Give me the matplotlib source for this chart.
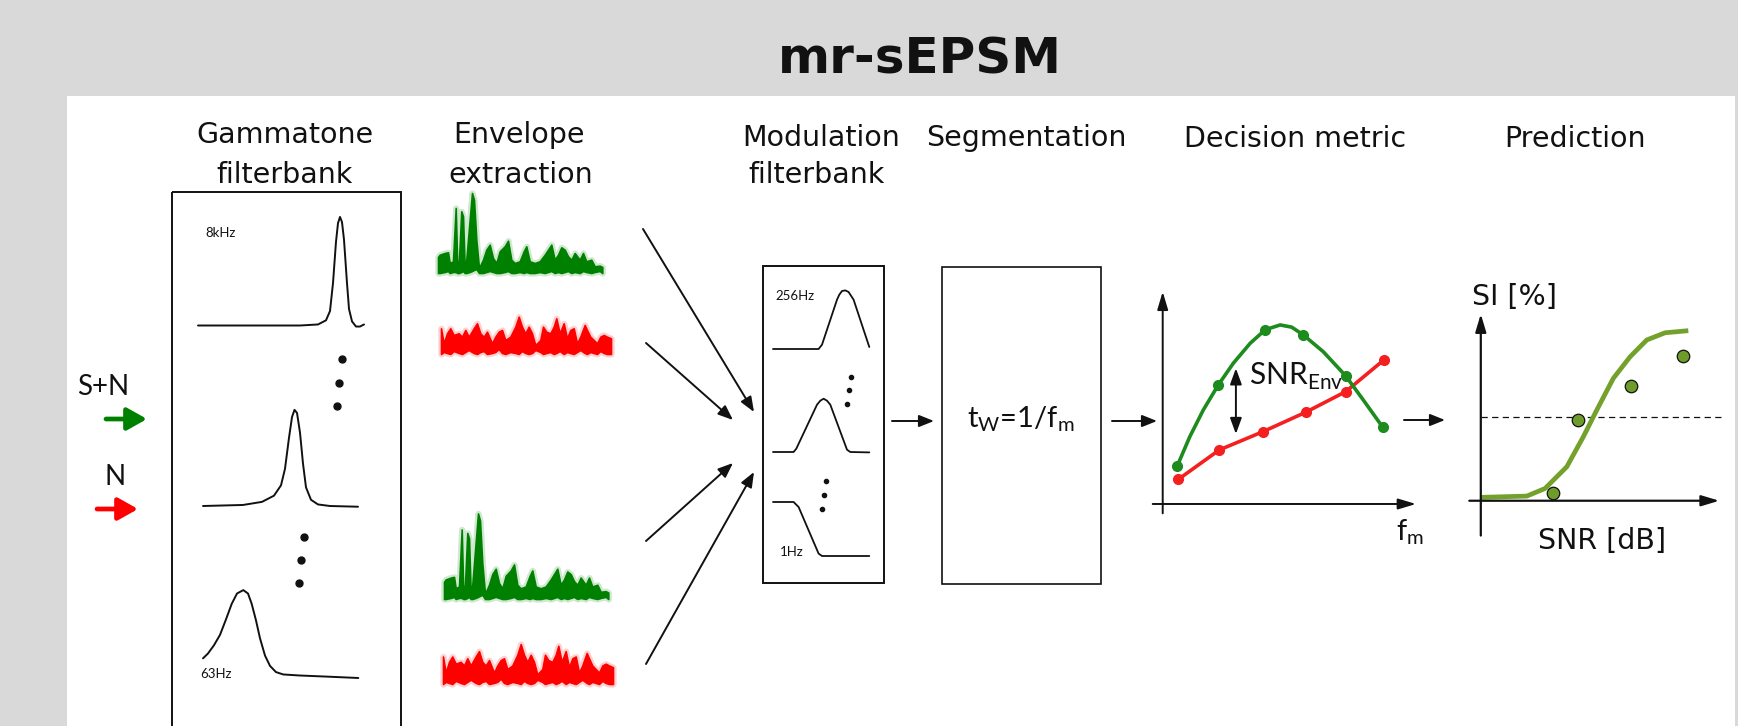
import numpy as np
import matplotlib
matplotlib.use("Agg")
import matplotlib.pyplot as plt
from matplotlib.patches import Rectangle

W, H = 1738, 726

# Gammatone filter magnitude shapes: (offset px, height px) from each filter's baseline start
GT_HIGH_DX = [0, 102, 120, 128, 132, 135, 138, 140, 142, 144, 146, 149, 151, 154, 158, 162, 166]
GT_HIGH_H = [0, 0, 1, 5, 14, 41, 81, 99, 105, 100, 83, 41, 16, 4, -1, -1, 1]
GT_MID_DX = [0, 40, 59, 71, 78, 82, 86, 89, 91.5, 94, 97, 100, 103, 108, 115, 127, 155]
GT_MID_H = [0, 1, 4, 10, 20, 36, 66, 86, 93, 90, 71, 41, 18, 6, 1.5, 0, -0.7]
GT_LOW_DX = [0, 5, 11, 17, 23, 28.7, 34, 40.3, 45, 48.7, 53, 57, 62, 67, 73, 80.3, 97, 127, 155.3]
GT_LOW_H = [19.3, 24, 32, 42, 57, 72, 82, 85.3, 82, 72, 56, 38.7, 22, 12, 6, 3.7, 2.7, 1.5, 0.3]

# Modulation filter shapes
MF_HIGH_DX = [0, 45.6, 49, 64, 66.3, 69, 72.3, 75.6, 80.6, 96.3]
MF_HIGH_H = [0, 0, 4.3, 49.3, 54.3, 58, 58.6, 57, 49.3, 2]
MF_MID_DX = [0, 20.6, 23.3, 44, 47.3, 50.6, 54, 57.3, 74, 77.3, 96.3]
MF_MID_H = [0, 0, 3.3, 47.3, 51.3, 53.3, 51.3, 47.3, 2.3, 0, -0.4]
MF_LOW_DX = [0, 20.6, 25.6, 45.6, 49, 96.3]
MF_LOW_H = [54, 54, 49, 2.4, 0, 0]

# Envelope traces (speech+noise in green, noise alone in red)
ENV_SN_DX = [0, 1.7, 6.7, 10, 11.7, 15, 17.7, 19.3, 21, 23.3, 25, 26.7, 28.3, 31.7, 34, 36,
             38.3, 41, 45, 48.3, 51.7, 55, 58.3, 61.7, 66.7, 70, 73.3, 76.7, 81.7, 85.7, 88.3,
             91.7, 96.7, 101.7, 106.7, 110, 113.3, 116.7, 120, 123.3, 126.7, 130, 133.3, 136.7,
             141.7, 145, 148.3, 153.3, 156.7, 161.7, 164.3]
ENV_SN_TOP = [16, 18.3, 20, 20.7, 10, 11.7, 65, 5, 13.3, 61.7, 56.7, 5, 13.3, 53.3, 80, 73.3,
              33.3, 5, 13.3, 23.3, 28.3, 15, 10, 21.7, 26.7, 32.3, 13.3, 10, 11.7, 21.7, 26.7,
              11.7, 10, 11.7, 18.3, 23.3, 28.3, 13.3, 18.3, 25.7, 23.3, 16.7, 13.3, 20, 13.3,
              20, 11.7, 13.3, 6.7, 7.3, 6]
ENV_SN_BOT = [0, 0, 1, 2, 0, 1, 1, 0, 0, 1, 2, 0, 0, 1, 2, 3, 4, 0, 0, 1, 2, 1, 0, 0, 1, 2,
              0, 0, 1, 0, 1, 0, 0, 1, 0, 1, 2, 0, 1, 0, 1, 2, 0, 1, 0, 2, 1, 0, 1, 2, 0]
ENV_N_DX = [0, 2.7, 6, 9.3, 12.7, 17.7, 21, 24.3, 27.7, 32.7, 36, 39.3, 42.7, 46, 51, 54.3,
            57.7, 61, 64.3, 69.3, 74.3, 77.7, 81, 84.3, 87.7, 91, 94.3, 99.3, 102, 105.3, 109.3,
            112.7, 115.3, 118.7, 122.7, 126, 129.3, 132.7, 136, 139.3, 143.7, 146, 149.3, 152.7,
            156, 159.3, 162.7, 166, 170]
ENV_N_TOP = [25.7, 10.7, 20.7, 25.7, 19, 20.7, 17.3, 24, 17.3, 25.7, 30.7, 20.7, 17.3, 22.3,
             10.7, 17.3, 22.3, 24, 14, 17.3, 27.3, 37.3, 27.3, 20.7, 27.3, 20.7, 9, 14, 27.3,
             22.3, 20.7, 27.3, 35.7, 20.7, 30.7, 15.7, 24, 25.7, 10.7, 17.3, 29, 24, 17.3, 14,
             10.7, 17.3, 19, 17.3, 15.7]
ENV_N_BOT = [0, 2, 1, 0, 3, 1, 0, 2, 4, 1, 0, 2, 3, 0, 1, 2, 5, 1, 0, 2, 1, 0, 3, 1, 0, 1, 4,
             2, 0, 1, 2, 0, 1, 3, 0, 2, 1, 0, 2, 4, 1, 0, 2, 1, 0, 3, 1, 0, 0]

# Decision metric: envelope power vs modulation frequency
DM_SN_CURVE_X = [9.3, 14.1, 19.2, 24.9, 30.6, 37.0, 42.7, 48.4, 52.8, 57.2, 64.8, 73.3, 80.0, 87.4]
DM_SN_CURVE_Y = [21.3, 34.6, 46.6, 57.9, 67.7, 76.7, 82.8, 85.0, 84.0, 80.5, 72.9, 62.0, 51.1, 38.8]
DM_SN_X = [9.3, 24.9, 42.7, 57.2, 73.3, 87.4]
DM_SN_Y = [21.3, 57.9, 82.8, 80.5, 62.0, 38.8]
DM_N_X = [9.7, 25.3, 41.8, 58.1, 73.3, 87.8]
DM_N_Y = [15.3, 28.6, 36.8, 45.6, 54.9, 69.2]

# Prediction: psychometric function and measured intelligibility
PRED_X = [4.6, 23.0, 30.3, 39.0, 45.6, 51.0, 57.6, 64.3, 71.0, 78.3, 87.6]
PRED_Y = [13.1, 13.7, 17.3, 27.6, 41.8, 54.5, 69.5, 79.7, 87.7, 91.1, 92.1]
MEAS_X = [33.6, 43.6, 64.7, 85.4]
MEAS_Y = [15.3, 50.0, 65.9, 80.3]
HALF_LEVEL = 51.3

HEADERS = [("Gammatone", 285, 143), ("filterbank", 285, 183),
           ("Envelope", 519, 143), ("extraction", 521, 183),
           ("Modulation", 821, 146), ("filterbank", 817, 183),
           ("Segmentation", 1026, 146), ("Decision metric", 1295, 147),
           ("Prediction", 1575, 147)]

GREEN = "#008000"
RED = "#ff0000"
LINE_GREEN = "#1d8b1d"
LINE_RED = "#f42020"
OLIVE = "#74a02c"
INK = "#111111"

fig = plt.figure(figsize=(W / 100, H / 100), dpi=100)
fig.patch.set_facecolor("#d9d9d9")
ax = fig.add_axes([0, 0, 1, 1])
ax.set_xlim(0, W)
ax.set_ylim(H, 0)
ax.axis("off")

ax.add_patch(Rectangle((67, 96), 1668, 650, facecolor="white", edgecolor="none"))

ax.text(920, 74, "mr-sEPSM", ha="center", va="baseline", fontsize=36,
        fontweight="bold", family="DejaVu Sans", color=INK)
for label, x, y in HEADERS:
    ax.text(x, y, label, ha="center", va="baseline", fontsize=20.5,
            family="DejaVu Sans", color=INK)


def arrow(a, start, end, color=INK, lw=1.4, ms=18, hl=0.5, hw=0.2, style="-|>"):
    a.annotate("", xy=end, xytext=start, annotation_clip=False,
               arrowprops=dict(arrowstyle=f"{style},head_length={hl},head_width={hw}",
                               color=color, lw=lw, mutation_scale=ms,
                               shrinkA=0, shrinkB=0))


def shape(dx, h, x0, y0, lw=1.4, sy=1.0):
    ax.plot(x0 + np.asarray(dx), y0 - np.asarray(h) * sy, color=INK, lw=lw,
            solid_capstyle="round", solid_joinstyle="round")


def envelope(dx, top, bot, x0, y0, color, halo, sy=1.0):
    x = x0 + np.asarray(dx)
    lo = y0 - np.asarray(bot) * sy
    hi = y0 - np.asarray(top) * sy
    ax.fill_between(x, lo, hi, color=halo, edgecolor=halo, lw=4.5)
    ax.fill_between(x, lo, hi, color=color, edgecolor=color, lw=1.2)


# input signals
ax.text(103, 387, "S+N", ha="center", va="center", fontsize=20, family="Lato", color=INK)
ax.text(115, 477, "N", ha="center", va="center", fontsize=20, family="Lato", color=INK)
arrow(ax, (106, 419), (147, 419), color=GREEN, lw=3.4, ms=15, hl=0.8, hw=0.45)
arrow(ax, (97, 509), (138, 509), color=RED, lw=3.4, ms=15, hl=0.8, hw=0.45)

# gammatone filterbank
ax.add_patch(Rectangle((172, 192), 229, 600, fill=False, edgecolor=INK, lw=1.4))
shape(GT_HIGH_DX, GT_HIGH_H, 198, 325.5, sy=1.034)
shape(GT_MID_DX, GT_MID_H, 203, 506, sy=1.034)
shape(GT_LOW_DX, GT_LOW_H, 203, 678.3, sy=1.034)
ax.plot([342, 339, 337], [359, 383, 406], "o", color=INK, ms=5)
ax.plot([304, 301, 299], [537, 560, 583], "o", color=INK, ms=5)
ax.text(205, 233, "8kHz", ha="left", va="center", fontsize=9.5, family="Lato", color=INK)
ax.text(200, 674, "63Hz", ha="left", va="center", fontsize=9.5, family="Lato", color=INK)

# envelopes
envelope(ENV_SN_DX, ENV_SN_TOP, ENV_SN_BOT, 438, 273, GREEN, "#cfe8cf")
envelope(ENV_N_DX, ENV_N_TOP, ENV_N_BOT, 441, 354, RED, "#ffd2d2")
envelope(ENV_SN_DX, ENV_SN_TOP, ENV_SN_BOT, 444, 599, GREEN, "#cfe8cf", sy=1.07)
envelope(ENV_N_DX, ENV_N_TOP, ENV_N_BOT, 443, 684, RED, "#ffd2d2", sy=1.07)

arrow(ax, (643, 229), (754, 412))
arrow(ax, (646, 343), (733, 420))
arrow(ax, (646, 541), (733, 463))
arrow(ax, (646, 664), (754, 472))

# modulation filterbank
ax.add_patch(Rectangle((763, 266), 121, 317, fill=False, edgecolor=INK, lw=1.4))
shape(MF_HIGH_DX, MF_HIGH_H, 773, 349, lw=1.3)
shape(MF_MID_DX, MF_MID_H, 773, 452, lw=1.3)
shape(MF_LOW_DX, MF_LOW_H, 773, 556, lw=1.3)
ax.plot([851, 848.5, 847], [377, 390, 404], "o", color=INK, ms=3)
ax.plot([826, 823.5, 822], [481, 495, 509], "o", color=INK, ms=3)
ax.text(775, 296, "256Hz", ha="left", va="center", fontsize=9.5, family="Lato", color=INK)
ax.text(780, 552, "1Hz", ha="left", va="center", fontsize=9.5, family="Lato", color=INK)

arrow(ax, (892, 421), (934, 421))

# segmentation
ax.add_patch(Rectangle((942, 267), 159, 317, fill=False, edgecolor=INK, lw=1.2))
ax.text(1021, 427, r"t$_\mathregular{W}$=1/f$_\mathregular{m}$", ha="center", va="baseline",
        fontsize=21, family="Lato", color=INK)

arrow(ax, (1112, 421), (1157, 421))
arrow(ax, (1404, 420), (1445, 420))


def px_axes(x0, y0, x1, y1):
    a = fig.add_axes([x0 / W, 1 - y1 / H, (x1 - x0) / W, (y1 - y0) / H])
    a.set_xlim(0, 100)
    a.set_ylim(0, 100)
    a.axis("off")
    return a


# decision metric
dm = px_axes(1152.7, 291.7, 1416, 513.3)
arrow(dm, (3.8, 0), (3.8, 100), lw=1.4, ms=18, hl=0.6, hw=0.18)
arrow(dm, (0, 4.2), (100, 4.2), lw=1.4, ms=18, hl=0.6, hw=0.18)
dm.plot(DM_N_X, DM_N_Y, color=LINE_RED, lw=2.6, marker="o", ms=7, clip_on=False)
dm.plot(DM_SN_CURVE_X, DM_SN_CURVE_Y, color=LINE_GREEN, lw=2.6, clip_on=False,
        solid_capstyle="round")
dm.plot(DM_SN_X, DM_SN_Y, "o", color=LINE_GREEN, ms=7, clip_on=False)
arrow(dm, (31.6, 35.8), (31.6, 65.4), lw=1.4, ms=16, hl=0.6, hw=0.22, style="<|-|>")
dm.text(36.5, 57.9, r"SNR$_\mathregular{Env}$", ha="left", va="baseline",
        fontsize=21.5, family="Lato", color=INK)
dm.text(92.5, -12, r"f$_\mathregular{m}$", ha="left", va="baseline",
        fontsize=21, family="Lato", color=INK)

# prediction
pr = px_axes(1469.3, 314, 1719.3, 525)
arrow(pr, (4.6, -5), (4.6, 100), lw=1.6, ms=18, hl=0.6, hw=0.18)
arrow(pr, (0, 11.5), (100, 11.5), lw=1.6, ms=18, hl=0.6, hw=0.18)
pr.plot([4.6, 101], [HALF_LEVEL, HALF_LEVEL], color=INK, lw=0.9, ls=(0, (5, 3.5)),
        clip_on=False)
pr.plot(PRED_X, PRED_Y, color=OLIVE, lw=3.4, clip_on=False, solid_capstyle="butt")
pr.plot(MEAS_X, MEAS_Y, "o", color="#6e9c2a", mec=INK, mew=0.9, ms=9, clip_on=False)
pr.text(17.9, 108, "SI [%]", ha="center", va="center", fontsize=20.5,
        family="DejaVu Sans", color=INK)
pr.text(53, -7.6, "SNR [dB]", ha="center", va="center", fontsize=20.5,
        family="DejaVu Sans", color=INK)

fig.savefig("out.png", dpi=100, facecolor=fig.get_facecolor())
